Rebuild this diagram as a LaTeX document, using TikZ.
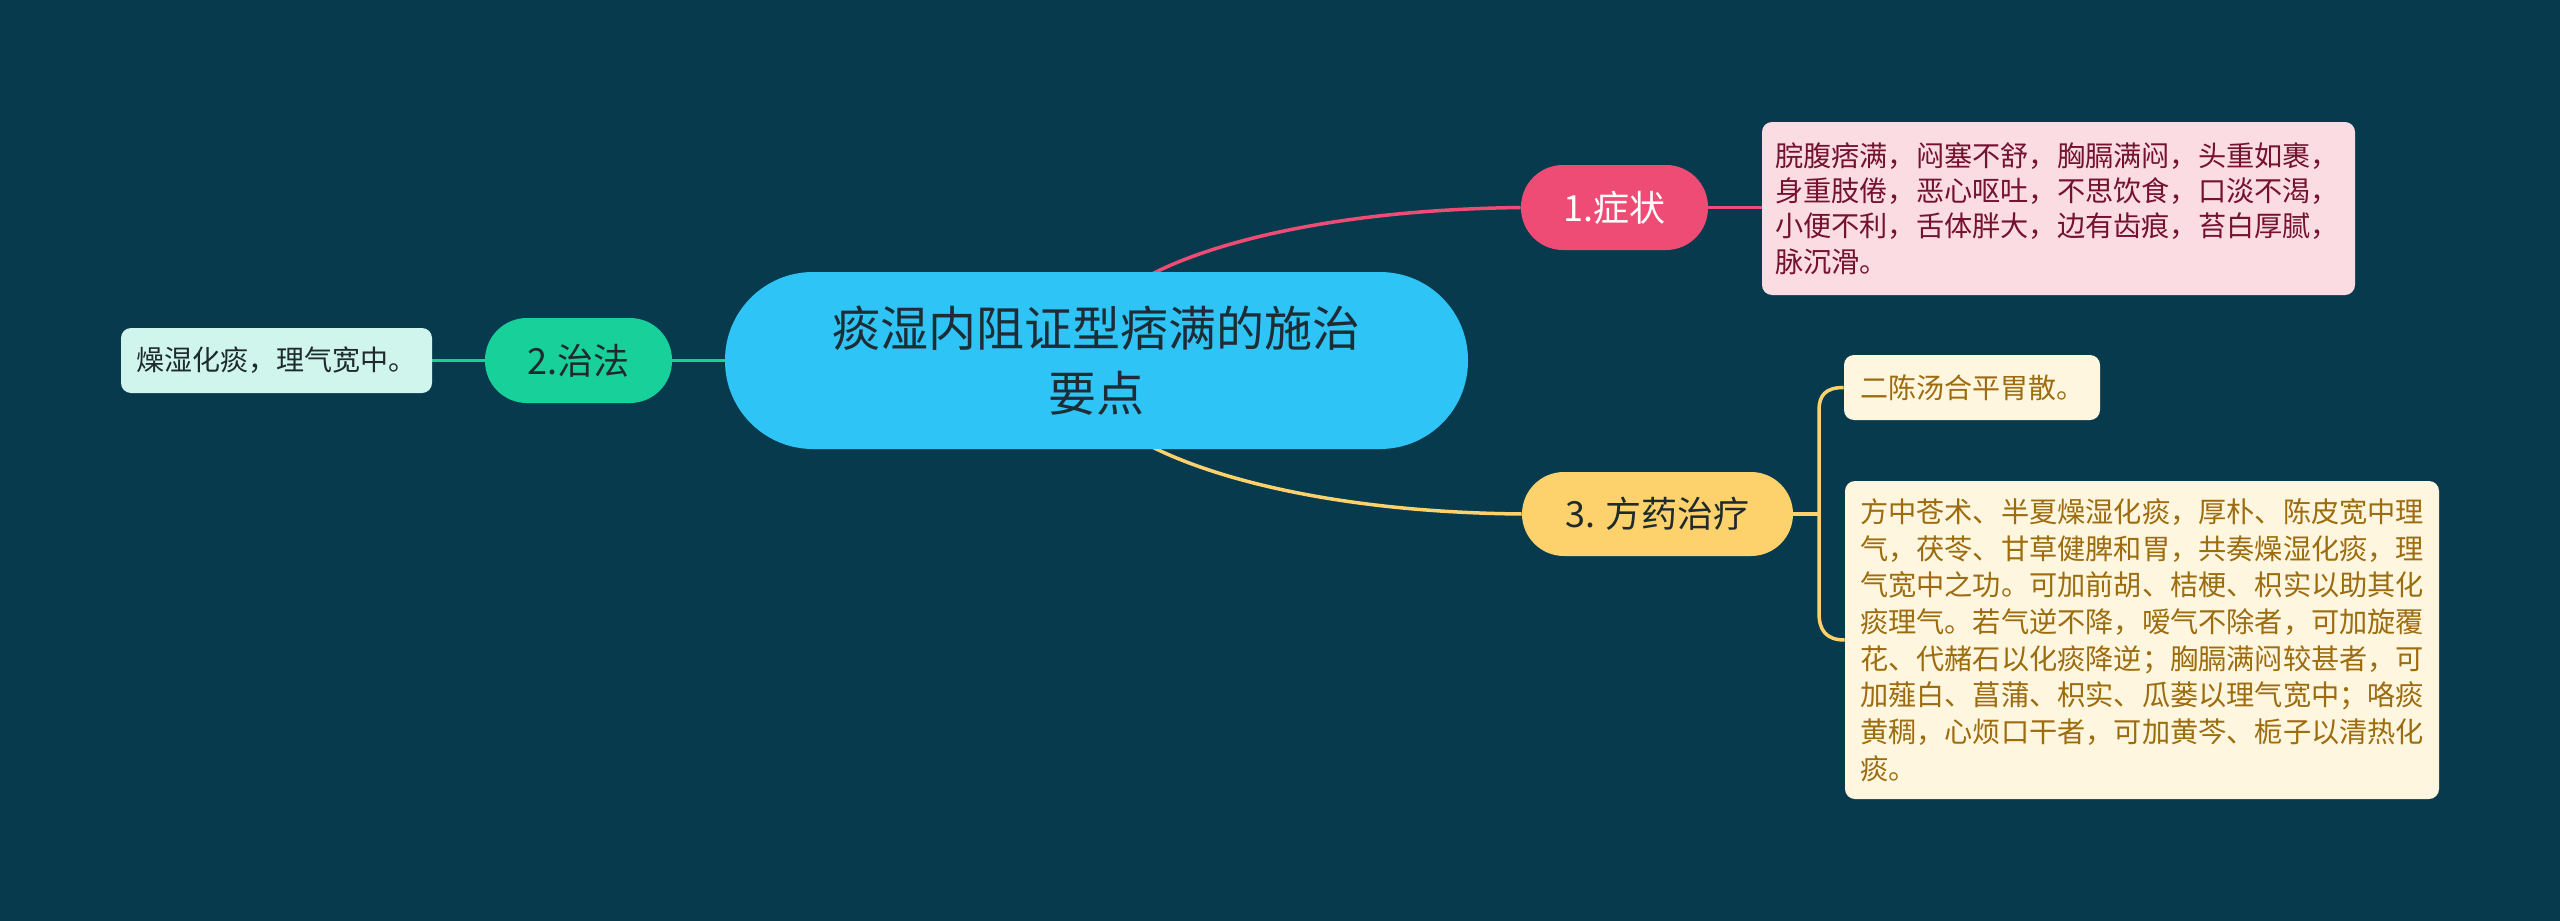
\documentclass[tikz,border=0pt]{standalone}
\usepackage{fontspec}
\setmainfont{Noto Sans CJK SC}
\usetikzlibrary{calc}
\definecolor{bgc}{HTML}{083A4E}
\definecolor{rootc}{HTML}{2EC4F5}
\definecolor{roottx}{HTML}{1E2C36}
\definecolor{pinkc}{HTML}{EE4B75}
\definecolor{pinkbox}{HTML}{FBDCE3}
\definecolor{pinktx}{HTML}{741230}
\definecolor{greenc}{HTML}{18D09A}
\definecolor{mintbox}{HTML}{CFF5EC}
\definecolor{darktx}{HTML}{1E2A2C}
\definecolor{yellowc}{HTML}{FDD26C}
\definecolor{creambox}{HTML}{FEF6DF}
\definecolor{creamtx}{HTML}{9C6C0E}
\pgfdeclarelayer{back}
\pgfsetlayers{back,main}
\begin{document}
\begin{tikzpicture}[x=0.5pt,y=-0.5pt,
  pill/.style={inner sep=0pt, rounded corners=21pt, minimum height=42.5pt, font=\fontsize{18}{20}\selectfont},
  detail/.style={inner ysep=0pt, rounded corners=5pt, align=left},
  conn/.style={line width=1.75pt},
]
\useasboundingbox (0,0) rectangle (2560,921);
\node[fill=rootc, text=roottx, rounded corners=44pt, minimum width=371.5pt, minimum height=88.5pt, inner sep=0pt, align=center, font=\fontsize{24}{32.5}\selectfont] (root) at (1096.5,360.5) {痰湿内阻证型痞满的施治\\要点};
\node[pill, fill=pinkc, text=white, minimum width=93.5pt] (zz) at (1614.5,207.5) {1.症状};
\node[pill, fill=greenc, text=darktx, minimum width=93.5pt] (zf) at (578.5,360.5) {2.治法};
\node[pill, fill=yellowc, text=darktx, minimum width=135.5pt, minimum height=42pt] (fy) at (1657.5,514) {3. 方药治疗};
\node[detail, fill=pinkbox, text=pinktx, inner xsep=6.5pt, text width=283.5pt, minimum height=86.5pt, font=\fontsize{14.1}{17.6}\selectfont] (zzd) at (2058.5,208.5) {脘腹痞满，闷塞不舒，胸膈满闷，头重如裹，\\身重肢倦，恶心呕吐，不思饮食，口淡不渴，\\小便不利，舌体胖大，边有齿痕，苔白厚腻，\\脉沉滑。};
\node[detail, fill=mintbox, text=darktx, inner xsep=6.5pt, minimum width=155.5pt, minimum height=32.5pt, font=\fontsize{14}{17}\selectfont] (zfd) at (276.5,360.5) {燥湿化痰，理气宽中。};
\node[detail, fill=creambox, text=creamtx, inner xsep=8pt, minimum width=127pt, minimum height=32.5pt, font=\fontsize{14}{17}\selectfont] (fy1) at (1972,387.5) {二陈汤合平胃散。};
\node[detail, fill=creambox, text=creamtx, inner xsep=7.5pt, text width=282pt, minimum height=159pt, font=\fontsize{14.1}{18.35}\selectfont] (fy2) at (2142,640) {方中苍术、半夏燥湿化痰，厚朴、陈皮宽中理\\气，茯苓、甘草健脾和胃，共奏燥湿化痰，理\\气宽中之功。可加前胡、桔梗、枳实以助其化\\痰理气。若气逆不降，嗳气不除者，可加旋覆\\花、代赭石以化痰降逆；胸膈满闷较甚者，可\\加薤白、菖蒲、枳实、瓜蒌以理气宽中；咯痰\\黄稠，心烦口干者，可加黄芩、栀子以清热化\\痰。};
\coordinate (br) at (1819,514);
\coordinate (brT) at (1819,410);
\coordinate (brB) at (1819,613);
\begin{pgfonlayer}{back}
\fill[bgc] (0,0) rectangle (2560,921);
\draw[conn, pinkc] ([shift={(43.5,9)}]root.north) .. controls (1195,248) and (1320,210) .. (zz.west);
\draw[conn, pinkc] (zz.east) -- (zz.east -| zzd.west);
\draw[conn, greenc] (root.west) -- (zf.east);
\draw[conn, greenc] (zf.west) -- (zfd.east);
\draw[conn, yellowc] ([shift={(43.5,-9)}]root.south) .. controls (1195,472) and (1320,512) .. (fy.west);
\draw[conn, yellowc] (fy.east) -- (br);
\draw[conn, yellowc] (fy1.west) .. controls (1826,387.5) and (1819,395) .. (brT) -- (brB) .. controls (1819,630) and (1826,640) .. (fy2.west);
\end{pgfonlayer}
\end{tikzpicture}
\end{document}
